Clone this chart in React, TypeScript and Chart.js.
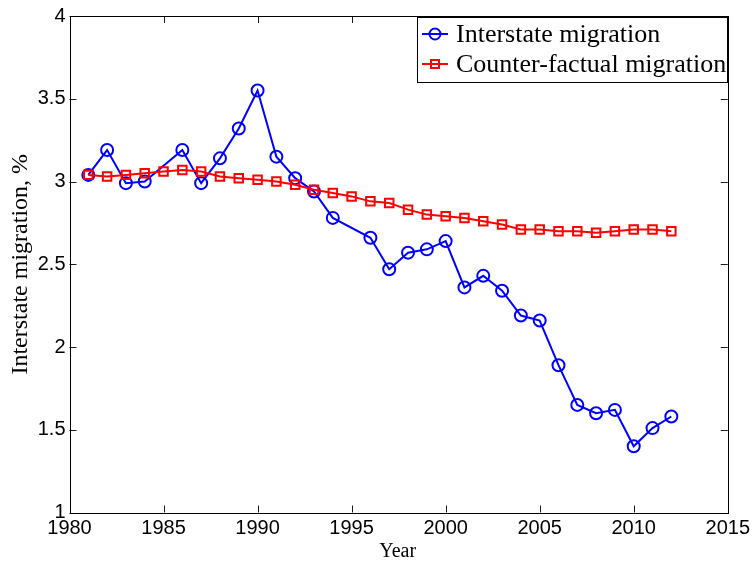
import { useEffect, useRef } from "react";
import { Chart, registerables } from "chart.js";

Chart.register(...registerables);

// Observed interstate migration rate (no observations for 1985 and 1995)
const interstateYears = [
  1981, 1982, 1983, 1984, 1986, 1987, 1988, 1989, 1990, 1991, 1992, 1993, 1994,
  1996, 1997, 1998, 1999, 2000, 2001, 2002, 2003, 2004, 2005, 2006, 2007, 2008,
  2009, 2010, 2011, 2012,
];
const interstateValues = [
  3.04, 3.19, 2.99, 3.0, 3.19, 2.99, 3.14, 3.32, 3.55, 3.15, 3.02, 2.94, 2.78,
  2.66, 2.47, 2.57, 2.59, 2.64, 2.36, 2.43, 2.34, 2.19, 2.16, 1.89, 1.65, 1.6,
  1.62, 1.4, 1.51, 1.58,
];

// Counter-factual migration rate, every year 1981-2012
const counterYears = [
  1981, 1982, 1983, 1984, 1985, 1986, 1987, 1988, 1989, 1990, 1991, 1992, 1993,
  1994, 1995, 1996, 1997, 1998, 1999, 2000, 2001, 2002, 2003, 2004, 2005, 2006,
  2007, 2008, 2009, 2010, 2011, 2012,
];
const counterValues = [
  3.04, 3.03, 3.04, 3.05, 3.06, 3.07, 3.06, 3.03, 3.02, 3.01, 3.0, 2.98, 2.95,
  2.93, 2.91, 2.88, 2.87, 2.83, 2.8, 2.79, 2.78, 2.76, 2.74, 2.71, 2.71, 2.7,
  2.7, 2.69, 2.7, 2.71, 2.71, 2.7,
];

const xTickValues = [1980, 1985, 1990, 1995, 2000, 2005, 2010, 2015];
const yTickValues = [1, 1.5, 2, 2.5, 3, 3.5, 4];

const seriesLabels = ["Interstate migration", "Counter-factual migration"];
const xTitle = "Year";
const yTitle = "Interstate migration, %";

const BLUE = "#0000ff";
const RED = "#ff0000";
const SANS = "'Liberation Sans', Arial, sans-serif";
const SERIF = "'Liberation Serif', 'Times New Roman', serif";

// Box, inward tick marks, axis titles and the boxed legend
const framePlugin = {
  id: "matlabFrame",
  afterDraw(chart: any) {
    const { ctx, chartArea, scales } = chart;
    const { left, right, top, bottom } = chartArea;
    const tick = 7;
    ctx.save();

    // inward ticks
    ctx.strokeStyle = "#1a1a1a";
    ctx.lineWidth = 1;
    ctx.beginPath();
    for (const v of xTickValues) {
      const px = Math.round(scales.x.getPixelForValue(v)) + 0.5;
      ctx.moveTo(px, bottom);
      ctx.lineTo(px, bottom - tick);
      ctx.moveTo(px, top);
      ctx.lineTo(px, top + tick);
    }
    for (const v of yTickValues) {
      const py = Math.round(scales.y.getPixelForValue(v)) + 0.5;
      ctx.moveTo(left, py);
      ctx.lineTo(left + tick, py);
      ctx.moveTo(right, py);
      ctx.lineTo(right - tick, py);
    }
    ctx.stroke();

    // axes box
    ctx.strokeStyle = "#000";
    ctx.strokeRect(
      Math.round(left) + 0.5,
      Math.round(top) + 0.5,
      Math.round(right - left),
      Math.round(bottom - top)
    );

    // axis titles
    ctx.fillStyle = "#000";
    ctx.font = `20px ${SERIF}`;
    ctx.textAlign = "center";
    ctx.textBaseline = "alphabetic";
    ctx.fillText(xTitle, (left + right) / 2 - 1, 556.5);

    ctx.save();
    ctx.translate(27, (top + bottom) / 2);
    ctx.rotate(-Math.PI / 2);
    ctx.font = `24px ${SERIF}`;
    ctx.fillText(yTitle, 0, 0);
    ctx.restore();

    // legend
    const bx = 417.5;
    const by = 17.5;
    const bw = 310;
    const bh = 65;
    ctx.fillStyle = "#fff";
    ctx.fillRect(bx, by, bw, bh);
    ctx.strokeStyle = "#000";
    ctx.lineWidth = 1;
    ctx.strokeRect(bx, by, bw, bh);

    const rows = [
      { y: 34, color: BLUE, style: "circle", label: seriesLabels[0] },
      { y: 64, color: RED, style: "rect", label: seriesLabels[1] },
    ];
    for (const r of rows) {
      ctx.strokeStyle = r.color;
      ctx.lineWidth = 2;
      ctx.beginPath();
      ctx.moveTo(422, r.y);
      ctx.lineTo(448, r.y);
      ctx.stroke();
      ctx.beginPath();
      if (r.style === "circle") {
        ctx.arc(435, r.y, 5.5, 0, Math.PI * 2);
      } else {
        ctx.rect(431, r.y - 4, 8, 8);
      }
      ctx.stroke();
      ctx.fillStyle = "#000";
      ctx.font = `26px ${SERIF}`;
      ctx.textAlign = "left";
      ctx.textBaseline = "middle";
      ctx.fillText(r.label, 456, r.y + 1);
    }
    ctx.restore();
  },
};

export default function App() {
  const canvasRef = useRef<HTMLCanvasElement | null>(null);

  useEffect(() => {
    document.body.style.margin = "0";
    const canvas = canvasRef.current;
    if (!canvas) return;

    const chart = new Chart(canvas, {
      type: "line",
      data: {
        datasets: [
          {
            label: seriesLabels[0],
            data: interstateYears.map((x, i) => ({ x, y: interstateValues[i] })),
            borderColor: BLUE,
            backgroundColor: "transparent",
            borderWidth: 2,
            pointStyle: "circle",
            pointRadius: 6,
            pointBorderWidth: 2,
            pointBorderColor: BLUE,
            pointBackgroundColor: "transparent",
            tension: 0,
            order: 1,
          },
          {
            label: seriesLabels[1],
            data: counterYears.map((x, i) => ({ x, y: counterValues[i] })),
            borderColor: RED,
            backgroundColor: "transparent",
            borderWidth: 2,
            pointStyle: "rect",
            pointRadius: 6,
            pointBorderWidth: 2,
            pointBorderColor: RED,
            pointBackgroundColor: "transparent",
            tension: 0,
            order: 0,
          },
        ],
      },
      options: {
        animation: false,
        responsive: false,
        maintainAspectRatio: false,
        events: [],
        layout: { padding: { top: 14, right: 24, left: 0, bottom: 0 } },
        plugins: {
          legend: { display: false },
          tooltip: { enabled: false },
        },
        scales: {
          x: {
            type: "linear",
            min: 1980,
            max: 2015,
            grid: { display: false, drawTicks: false },
            border: { display: false },
            afterBuildTicks: (s: any) => {
              s.ticks = xTickValues.map((value) => ({ value }));
            },
            afterFit: (s: any) => {
              s.height = 50.5;
            },
            ticks: {
              autoSkip: false,
              maxRotation: 0,
              padding: 4,
              color: "#000",
              font: { family: SANS, size: 20 },
              callback: (v: any) => String(v),
            },
          },
          y: {
            type: "linear",
            min: 1,
            max: 4,
            grid: { display: false, drawTicks: false },
            border: { display: false },
            afterBuildTicks: (s: any) => {
              s.ticks = yTickValues.map((value) => ({ value }));
            },
            afterFit: (s: any) => {
              s.width = 69.5;
            },
            ticks: {
              autoSkip: false,
              padding: 4,
              color: "#000",
              font: { family: SANS, size: 20 },
              callback: (v: any) => String(v),
            },
          },
        },
      },
      plugins: [framePlugin],
    });

    return () => chart.destroy();
  }, []);

  return (
    <div style={{ position: "fixed", left: 0, top: 0, width: 754, height: 563, background: "#fff" }}>
      <canvas ref={canvasRef} width={754} height={563} style={{ display: "block" }} />
    </div>
  );
}
